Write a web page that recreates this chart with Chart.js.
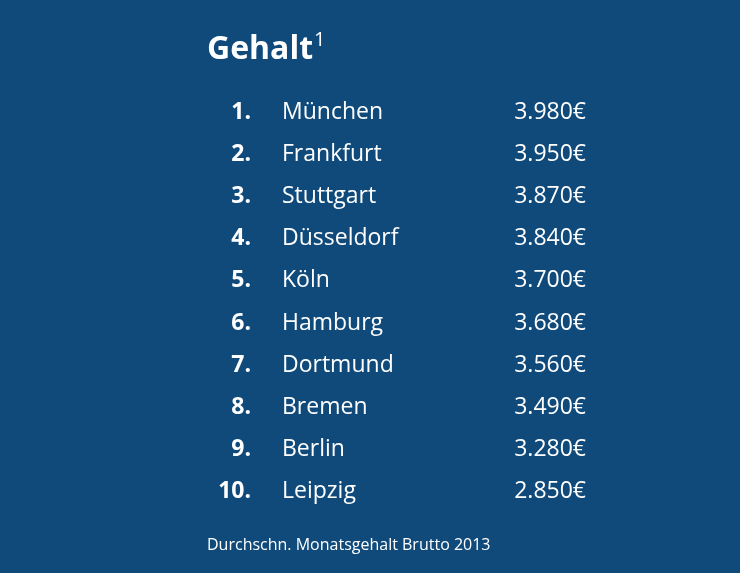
<!DOCTYPE html>
<html>
<head>
<meta charset="utf-8">
<script src="https://cdn.jsdelivr.net/npm/chart.js@4/dist/chart.umd.min.js"></script>
<style>
  html, body { margin: 0; padding: 0; background: #0f4a7b; }
  #wrap { width: 740px; height: 573px; }
</style>
</head>
<body>
<div id="wrap"><canvas id="c"></canvas></div>
<script>
const ranks = ['1.', '2.', '3.', '4.', '5.', '6.', '7.', '8.', '9.', '10.'];
const cities = ['München', 'Frankfurt', 'Stuttgart', 'Düsseldorf', 'Köln', 'Hamburg', 'Dortmund', 'Bremen', 'Berlin', 'Leipzig'];
const salaries = [3980, 3950, 3870, 3840, 3700, 3680, 3560, 3490, 3280, 2850];
const titleText = 'Gehalt';
const footText = 'Durchschn. Monatsgehalt Brutto 2013';

const FONT = '"Open Sans", sans-serif';

function fmt(v) {
    return v.toLocaleString('de-DE') + '€';
}

const tablePlugin = {
    id: 'tableText',
    afterDraw: (chart) => {
        const { ctx, scales: { y } } = chart;
        ctx.save();
        ctx.fillStyle = '#ffffff';
        ctx.textBaseline = 'middle';

        ctx.font = 'bold 32px ' + FONT;
        ctx.textAlign = 'left';
        ctx.fillText(titleText, 207, 50);
        const w = ctx.measureText(titleText).width;
        ctx.font = '20px ' + FONT;
        ctx.fillText('1', 207 + w + 1, 40);

        cities.forEach((city, i) => {
            const py = y.getPixelForValue(i);
            ctx.font = 'bold 23px ' + FONT;
            ctx.textAlign = 'right';
            ctx.fillText(ranks[i], 251, py);
            ctx.font = '23px ' + FONT;
            ctx.textAlign = 'left';
            ctx.fillText(city, 282, py);
            ctx.textAlign = 'right';
            ctx.fillText(fmt(salaries[i]), 586, py);
        });

        ctx.font = '16px ' + FONT;
        ctx.textAlign = 'left';
        ctx.fillText(footText, 207, 545);
        ctx.restore();
    }
};

new Chart(document.getElementById('c'), {
    type: 'bar',
    data: {
        labels: cities,
        datasets: [{
            data: salaries,
            backgroundColor: 'rgba(0,0,0,0)',
            borderWidth: 0
        }]
    },
    options: {
        indexAxis: 'y',
        responsive: true,
        maintainAspectRatio: false,
        animation: false,
        layout: { padding: { top: 91, bottom: 60, left: 0, right: 0 } },
        plugins: {
            legend: { display: false },
            tooltip: { enabled: false }
        },
        scales: {
            x: { display: false, beginAtZero: true },
            y: { display: false }
        }
    },
    plugins: [tablePlugin]
});
</script>
</body>
</html>
